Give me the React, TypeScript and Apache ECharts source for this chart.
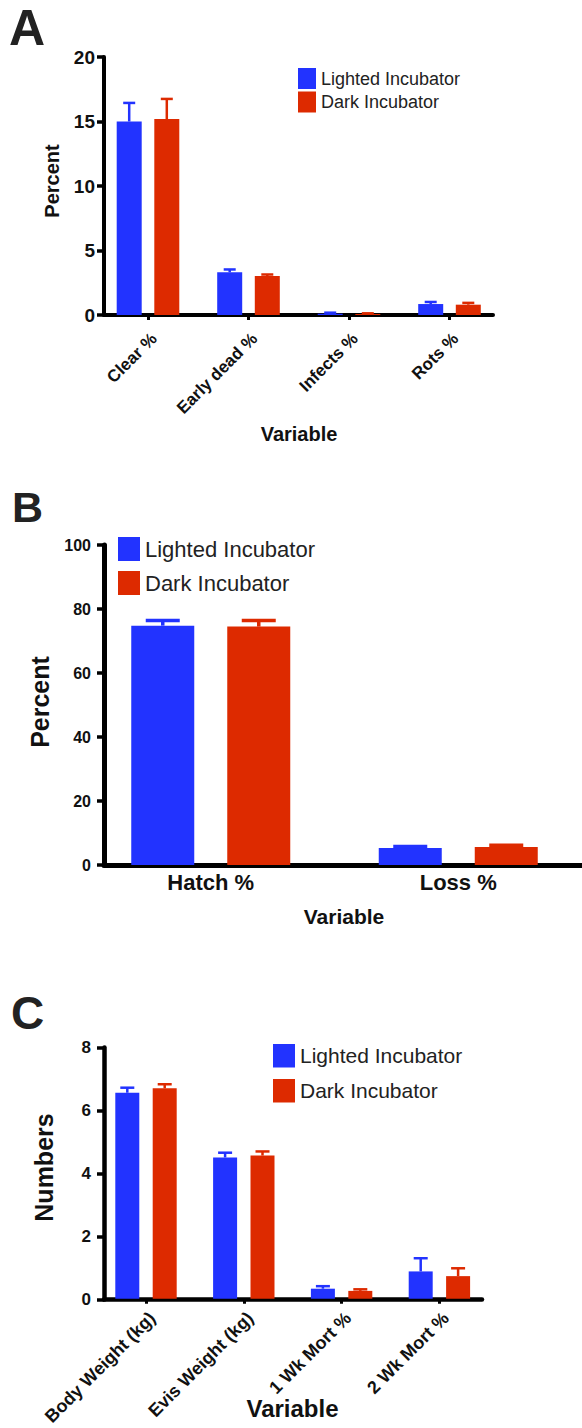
import React, { useEffect, useRef } from 'react';
import * as echarts from 'echarts';

// ---------------- data ----------------
const seriesNames = ['Lighted Incubator', 'Dark Incubator'];

const aCategories = ['Clear %', 'Early dead %', 'Infects %', 'Rots %'];
const aLightMean = [15.0, 3.31, 0.1, 0.85];
const aLightSem = [1.44, 0.22, 0.08, 0.16];
const aDarkMean = [15.19, 3.02, 0.08, 0.8];
const aDarkSem = [1.56, 0.12, 0.05, 0.14];
const aYMax = 20;
const aYInterval = 5;

const bCategories = ['Hatch %', 'Loss %'];
const bLightMean = [74.8, 5.3];
const bLightSem = [1.6, 0.5];
const bDarkMean = [74.5, 5.6];
const bDarkSem = [1.9, 0.6];
const bYMax = 100;
const bYInterval = 20;

const cCategories = ['Body Weight (kg)', 'Evis Weight (kg)', '1 Wk Mort %', '2 Wk Mort %'];
const cLightMean = [6.56, 4.5, 0.32, 0.87];
const cLightSem = [0.16, 0.15, 0.08, 0.42];
const cDarkMean = [6.7, 4.56, 0.25, 0.72];
const cDarkSem = [0.13, 0.13, 0.05, 0.25];
const cYMax = 8;
const cYInterval = 2;

// ---------------- styles ----------------
const FONT = '"Liberation Sans", Arial, Helvetica, sans-serif';
const BLUE = '#2233ff';
const RED = '#dd2a00';
const INK = '#111111';

type PanelData = {
  categories: string[];
  lightMean: number[];
  lightSem: number[];
  darkMean: number[];
  darkSem: number[];
  yMax: number;
  yInterval: number;
};

type PanelLayout = {
  letter: string; letterX: number; letterY: number; letterSize: number;
  top: number; height: number;
  axisLeft: number; axisWidth: number;
  bandLeft: number; bandWidth: number;
  axisLineWidth: number;
  yLabelSize: number; yLabelMargin: number;
  yTitle: string; yTitleX: number; yTitleY: number; yTitleSize: number;
  xTitleX: number; xTitleY: number; xTitleSize: number;
  xLabelSize: number; xLabelRotate: number; xLabelMargin: number; xTicks: boolean;
  barWidth: number; barGapPx: number;
  errWidth: number; capWidth: number;
  legendLeft: number; legendTop: number; legendW: number; legendH: number; legendGap: number; legendFont: number;
};

const layoutA: PanelLayout = {
  letter: 'A', letterX: 9, letterY: 27.5, letterSize: 50,
  top: 57, height: 258,
  axisLeft: 104, axisWidth: 389,
  bandLeft: 97.75, bandWidth: 402,
  axisLineWidth: 4,
  yLabelSize: 19, yLabelMargin: 9,
  yTitle: 'Percent', yTitleX: 51.5, yTitleY: 181, yTitleSize: 20,
  xTitleX: 299, xTitleY: 434, xTitleSize: 20,
  xLabelSize: 17, xLabelRotate: 45, xLabelMargin: 15, xTicks: true,
  barWidth: 25, barGapPx: 12.6,
  errWidth: 2.5, capWidth: 12,
  legendLeft: 298, legendTop: 68, legendW: 18, legendH: 21, legendGap: 2.5, legendFont: 18,
};

const layoutB: PanelLayout = {
  letter: 'B', letterX: 12, letterY: 507, letterSize: 43,
  top: 545, height: 320,
  axisLeft: 104, axisWidth: 500,
  bandLeft: 87, bandWidth: 514,
  axisLineWidth: 5,
  yLabelSize: 16, yLabelMargin: 13,
  yTitle: 'Percent', yTitleX: 40, yTitleY: 702, yTitleSize: 25,
  xTitleX: 344, xTitleY: 916, xTitleSize: 21,
  xLabelSize: 22, xLabelRotate: 0, xLabelMargin: 6, xTicks: false,
  barWidth: 63, barGapPx: 33,
  errWidth: 3.5, capWidth: 34,
  legendLeft: 118, legendTop: 537, legendW: 22, legendH: 24, legendGap: 10, legendFont: 22,
};

const layoutC: PanelLayout = {
  letter: 'C', letterX: 11, letterY: 1013, letterSize: 46,
  top: 1047.5, height: 252,
  axisLeft: 104, axisWidth: 378,
  bandLeft: 97.1, bandWidth: 391.2,
  axisLineWidth: 4.5,
  yLabelSize: 17, yLabelMargin: 13,
  yTitle: 'Numbers', yTitleX: 43.5, yTitleY: 1167.5, yTitleSize: 25,
  xTitleX: 292.5, xTitleY: 1408, xTitleSize: 24,
  xLabelSize: 18, xLabelRotate: 45, xLabelMargin: 10, xTicks: true,
  barWidth: 24, barGapPx: 13.4,
  errWidth: 2.5, capWidth: 14,
  legendLeft: 273, legendTop: 1044, legendW: 22, legendH: 23.5, legendGap: 11.5, legendFont: 21,
};

const panels: { d: PanelData; l: PanelLayout }[] = [
  { d: { categories: aCategories, lightMean: aLightMean, lightSem: aLightSem, darkMean: aDarkMean, darkSem: aDarkSem, yMax: aYMax, yInterval: aYInterval }, l: layoutA },
  { d: { categories: bCategories, lightMean: bLightMean, lightSem: bLightSem, darkMean: bDarkMean, darkSem: bDarkSem, yMax: bYMax, yInterval: bYInterval }, l: layoutB },
  { d: { categories: cCategories, lightMean: cLightMean, lightSem: cLightSem, darkMean: cDarkMean, darkSem: cDarkSem, yMax: cYMax, yInterval: cYInterval }, l: layoutC },
];

function buildOption() {
  const grid: any[] = [];
  const xAxis: any[] = [];
  const yAxis: any[] = [];
  const series: any[] = [];
  const legend: any[] = [];
  const graphic: any[] = [];

  panels.forEach(({ d, l }, p) => {
    const axisIdx = p * 2;
    const bandIdx = p * 2 + 1;
    grid.push({ left: l.axisLeft, top: l.top, width: l.axisWidth, height: l.height });
    grid.push({ left: l.bandLeft, top: l.top, width: l.bandWidth, height: l.height });

    // axis-line grid (visible axes)
    xAxis.push({
      gridIndex: axisIdx, type: 'value', min: 0, max: 1,
      axisLine: { show: true, onZero: false, lineStyle: { color: '#000', width: l.axisLineWidth } },
      axisTick: { show: false }, axisLabel: { show: false }, splitLine: { show: false },
    });
    yAxis.push({
      gridIndex: axisIdx, type: 'value', min: 0, max: d.yMax, interval: d.yInterval,
      axisLine: { show: true, onZero: false, lineStyle: { color: '#000', width: l.axisLineWidth } },
      axisTick: { show: true, length: 7, lineStyle: { color: '#000', width: 3.5 } },
      axisLabel: { color: INK, fontWeight: 'bold', fontSize: l.yLabelSize, fontFamily: FONT, margin: l.yLabelMargin },
      splitLine: { show: false },
    });

    // band grid (categories + bars)
    xAxis.push({
      gridIndex: bandIdx, type: 'category', data: d.categories,
      axisLine: { show: false },
      axisTick: { show: l.xTicks, alignWithLabel: true, length: 5, lineStyle: { color: '#000', width: 3 } },
      axisLabel: l.xLabelRotate
        ? { rotate: l.xLabelRotate, color: INK, fontWeight: 'bold', fontSize: l.xLabelSize, fontFamily: FONT, margin: l.xLabelMargin, interval: 0, verticalAlign: 'top', align: 'right' }
        : { color: INK, fontWeight: 'bold', fontSize: l.xLabelSize, fontFamily: FONT, margin: l.xLabelMargin, interval: 0 },
      splitLine: { show: false },
    });
    yAxis.push({
      gridIndex: bandIdx, type: 'value', min: 0, max: d.yMax, interval: d.yInterval, show: false,
    });

    const barGapPct = (l.barGapPx / l.barWidth) * 100 + '%';
    const offset = l.barGapPx / 2 + l.barWidth / 2;
    const groups = [
      { name: seriesNames[0], mean: d.lightMean, sem: d.lightSem, color: BLUE, dx: -offset },
      { name: seriesNames[1], mean: d.darkMean, sem: d.darkSem, color: RED, dx: offset },
    ];
    groups.forEach((g) => {
      series.push({
        type: 'bar', name: g.name, xAxisIndex: bandIdx, yAxisIndex: bandIdx,
        data: g.mean, barWidth: l.barWidth, barGap: barGapPct,
        itemStyle: { color: g.color },
      });
    });
    groups.forEach((g) => {
      series.push({
        type: 'custom', name: g.name, xAxisIndex: bandIdx, yAxisIndex: bandIdx, z: 3,
        data: g.mean.map((m, i) => [i, m, m + g.sem[i]]),
        renderItem: (params: any, api: any) => {
          const p0 = api.coord([api.value(0), api.value(1)]);
          const p1 = api.coord([api.value(0), api.value(2)]);
          const cx = p0[0] + g.dx;
          const st = { stroke: g.color, lineWidth: l.errWidth };
          return {
            type: 'group',
            children: [
              { type: 'line', shape: { x1: cx, y1: p0[1], x2: cx, y2: p1[1] }, style: st },
              { type: 'line', shape: { x1: cx - l.capWidth / 2, y1: p1[1], x2: cx + l.capWidth / 2, y2: p1[1] }, style: st },
            ],
          };
        },
      });
    });

    legend.push({
      orient: 'vertical', left: l.legendLeft, top: l.legendTop,
      itemWidth: l.legendW, itemHeight: l.legendH, itemGap: l.legendGap,
      icon: 'rect', padding: 0,
      data: seriesNames.map((n, i) => ({ name: n, itemStyle: { color: i === 0 ? BLUE : RED } })),
      textStyle: { fontSize: l.legendFont, color: '#222', fontFamily: FONT },
      selectedMode: false,
    });

    graphic.push({
      type: 'text', x: l.letterX, y: l.letterY,
      style: { text: l.letter, fontSize: l.letterSize, fontWeight: 'bold', fontFamily: FONT, fill: '#222', align: 'left', verticalAlign: 'middle' },
    });
    graphic.push({
      type: 'text', x: l.yTitleX, y: l.yTitleY, rotation: Math.PI / 2,
      style: { text: l.yTitle, fontSize: l.yTitleSize, fontWeight: 'bold', fontFamily: FONT, fill: INK, align: 'center', verticalAlign: 'middle' },
    });
    graphic.push({
      type: 'text', x: l.xTitleX, y: l.xTitleY,
      style: { text: 'Variable', fontSize: l.xTitleSize, fontWeight: 'bold', fontFamily: FONT, fill: INK, align: 'center', verticalAlign: 'middle' },
    });
  });

  return {
    animation: false,
    backgroundColor: '#ffffff',
    grid, xAxis, yAxis, series, legend, graphic,
  };
}

export default function App() {
  const ref = useRef<HTMLDivElement>(null);
  useEffect(() => {
    if (!ref.current) return;
    const chart = echarts.init(ref.current, null, { renderer: 'svg' });
    chart.setOption(buildOption() as any);
    return () => chart.dispose();
  }, []);
  return (
    <div
      ref={ref}
      style={{ position: 'absolute', left: 0, top: 0, width: 582, height: 1428, background: '#fff' }}
    />
  );
}
